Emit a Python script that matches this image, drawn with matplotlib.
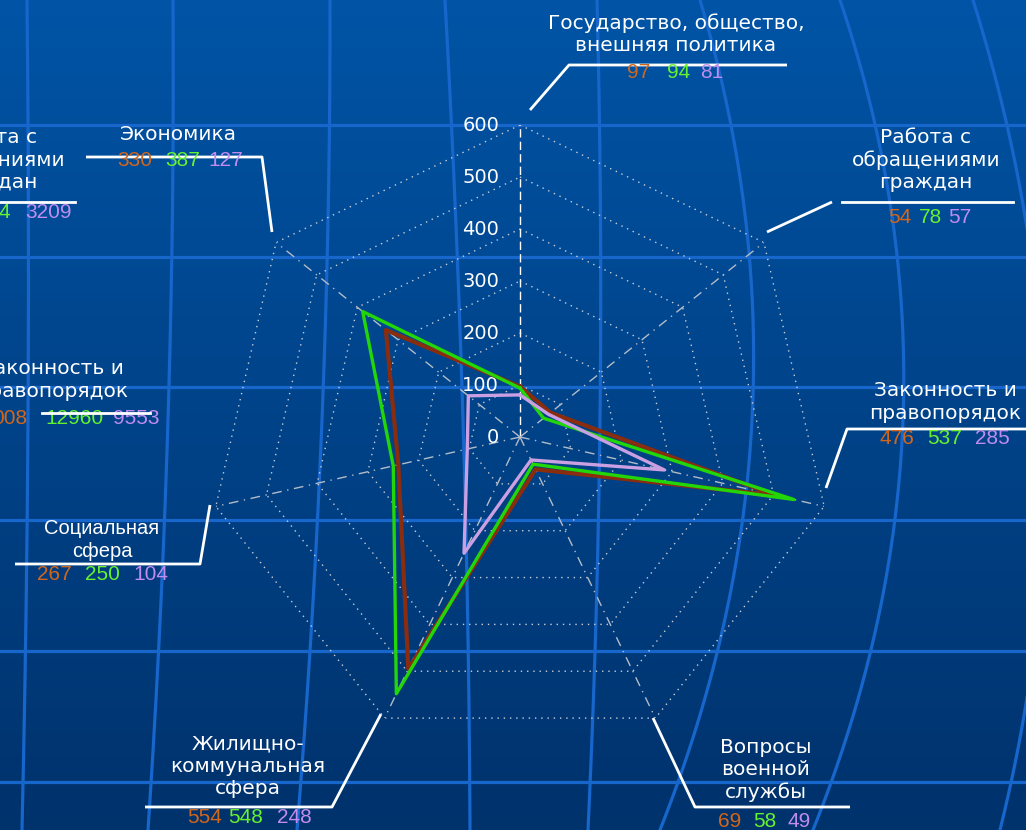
import numpy as np
import matplotlib
matplotlib.use("Agg")
import matplotlib.pyplot as plt

W, H = 1026, 830

categories = [
    "Государство, общество,\nвнешняя политика",
    "Работа с\nобращениями\nграждан",
    "Законность и\nправопорядок",
    "Вопросы\nвоенной\nслужбы",
    "Жилищно-\nкоммунальная\nсфера",
    "Социальная\nсфера",
    "Экономика",
]
# numbers printed under each category (orange, green, purple)
label_orange = [97, 54, 476, 69, 554, 267, 330]
label_green = [94, 78, 537, 58, 548, 250, 387]
label_purple = [81, 57, 285, 49, 248, 104, 127]

# values of the three radar lines as drawn
line_brown = [97, 75, 505, 69, 495, 240, 330]
line_green = [94, 58, 540, 58, 548, 250, 387]
line_purple = [81, 70, 285, 49, 248, 104, 127]

r_ticks = [0, 100, 200, 300, 400, 500, 600]

# layout in pixels: label centre, leader polyline, number x starts, number y
layout = [
    dict(c=(676, 34), font="DejaVu Sans", leader=[(530, 110), (569, 65), (787, 65)],
         nx=[627, 667, 700], ny=73),
    dict(c=(926, 160), font="DejaVu Sans", leader=[(767, 232), (832, 202)],
         under=[(842, 202), (1013, 202)], nx=[888, 919, 948], ny=217),
    dict(c=(945, 402), font="DejaVu Sans", leader=[(826, 488), (847, 429), (1030, 429)],
         nx=[879, 927, 975], ny=438),
    dict(c=(766, 770), font="DejaVu Sans", leader=[(653, 718), (695, 807), (850, 807)],
         nx=[718, 753, 788], ny=821),
    dict(c=(248, 766), font="DejaVu Sans", leader=[(381, 714), (332, 807), (145, 807)],
         nx=[187, 228, 277], ny=817),
    dict(c=(102, 540), font="Liberation Sans", leader=[(210, 505), (200, 564), (15, 564)],
         nx=[37, 85, 133], ny=574),
    dict(c=(178, 135), font="DejaVu Sans", leader=[(272, 232), (262, 157), (86, 157)],
         nx=[117, 165, 208], ny=160),
]

ORANGE = "#d2661a"
GREEN = "#66f22e"
PURPLE = "#c08cf0"

fig = plt.figure(figsize=(W / 100, H / 100), dpi=100)

# background: gradient with a globe-like grid
bg = fig.add_axes([0, 0, 1, 1])
bg.set_xlim(0, W)
bg.set_ylim(H, 0)
bg.axis("off")
top = np.array([0, 84, 166]) / 255
bot = np.array([0, 50, 108]) / 255
t = np.linspace(0, 1, 256)[:, None]
grad = (top[None, :] * (1 - t) + bot[None, :] * t)[:, None, :]
bg.imshow(grad, extent=[0, W, H, 0], aspect="auto", zorder=0)

grid_col = "#1766cc"
for yy in [125, 257, 387, 520, 651, 782]:
    bg.axhline(yy, color=grid_col, lw=2.3, zorder=1)

meridians = [
    [(0, 27), (420, 28), (830, 22)],
    [(0, 173), (420, 168), (830, 148)],
    [(0, 330), (420, 322), (830, 297)],
    [(0, 445), (420, 463), (830, 470)],
    [(0, 597), (420, 600), (830, 588)],
    [(0, 700), (420, 752), (830, 660)],
    [(0, 840), (420, 903), (830, 813)],
    [(0, 973), (420, 1045), (830, 1000)],
]
yy = np.linspace(0, H, 200)
for pts in meridians:
    ys, xs = zip(*pts)
    coef = np.polyfit(ys, xs, 2)
    bg.plot(np.polyval(coef, yy), yy, color=grid_col, lw=2.3, zorder=1)

# labels, leader lines and numbers
for cat, lay, o, g, p in zip(categories, layout, label_orange, label_green, label_purple):
    cx, cy = lay["c"]
    bg.text(cx, cy, cat, ha="center", va="center", color="white", fontsize=14.5,
            family=lay["font"], linespacing=1.22, zorder=5)
    xs, ys = zip(*lay["leader"])
    bg.plot(xs, ys, color="white", lw=2, zorder=5, solid_capstyle="butt")
    if "under" in lay:
        xs, ys = zip(*lay["under"])
        bg.plot(xs, ys, color="white", lw=2, zorder=5)
    for x0, val, col in zip(lay["nx"], [o, g, p], [ORANGE, GREEN, PURPLE]):
        bg.text(x0, lay["ny"], str(val), ha="left", va="center", color=col,
                fontsize=15, family="Liberation Sans", zorder=6)

# pieces of the neighbouring chart, cut off at the left edge
bg.text(-9, 160, "Работа с\nобращениями\nграждан", ha="center", va="center",
        color="white", fontsize=14.5, family="DejaVu Sans", linespacing=1.22, zorder=5)
bg.plot([0, 75], [202, 202], color="white", lw=2, zorder=5)
bg.text(10, 212, "4", ha="right", va="center", color=GREEN, fontsize=15,
        family="Liberation Sans", zorder=6)
bg.text(25, 212, "3209", ha="left", va="center", color=PURPLE, fontsize=15,
        family="Liberation Sans", zorder=6)
bg.text(52, 380, "Законность и\nправопорядок", ha="center", va="center",
        color="white", fontsize=14.5, family="DejaVu Sans", linespacing=1.22, zorder=5)
bg.plot([42, 150], [413, 413], color="white", lw=2, zorder=7)
bg.text(27, 418, "008", ha="right", va="center", color=ORANGE, fontsize=15,
        family="Liberation Sans", zorder=6)
bg.text(45, 418, "12960", ha="left", va="center", color=GREEN, fontsize=15,
        family="Liberation Sans", zorder=6)
bg.text(113, 418, "9553", ha="left", va="center", color=PURPLE, fontsize=15,
        family="Liberation Sans", zorder=6)

# radar
cx, cy, R = 520, 437, 312
ax = fig.add_axes([(cx - R) / W, (H - cy - R) / H, 2 * R / W, 2 * R / H],
                  projection="polar")
ax.set_theta_zero_location("N")
ax.set_theta_direction(-1)
ax.set_ylim(0, 600)
ax.patch.set_alpha(0)
ax.grid(False)
ax.spines["polar"].set_visible(False)
ax.set_xticks([])
ax.set_yticks([])

n = len(categories)
theta = np.arange(n) * 2 * np.pi / n
closed = np.append(theta, theta[0])

for r in r_ticks[1:]:
    ax.plot(closed, [r] * (n + 1), color="#c9ced6", lw=1, ls=(0, (1, 3.5)), zorder=2)
for i, th in enumerate(theta):
    if i == 0:
        ax.plot([th, th], [0, 600], color="white", lw=1, ls=(0, (6, 3)), zorder=2)
    else:
        ax.plot([th, th], [0, 600], color="#b4bcc8", lw=1, ls=(0, (7, 4, 1, 4)), zorder=2)

for r in r_ticks:
    ax.annotate(str(r), xy=(0, r), xytext=(-15, 0), textcoords="offset points",
                ha="right", va="center", color="white", fontsize=14, family="DejaVu Sans")

ax.plot(closed, line_brown + line_brown[:1], color="#8a2c0e", lw=3, zorder=3)
ax.plot(closed, line_green + line_green[:1], color="#22d60a", lw=2.4, zorder=4)
ax.plot(closed, line_purple + line_purple[:1], color="#caa0e2", lw=2.4, zorder=5)

fig.savefig("out.png", dpi=100)
